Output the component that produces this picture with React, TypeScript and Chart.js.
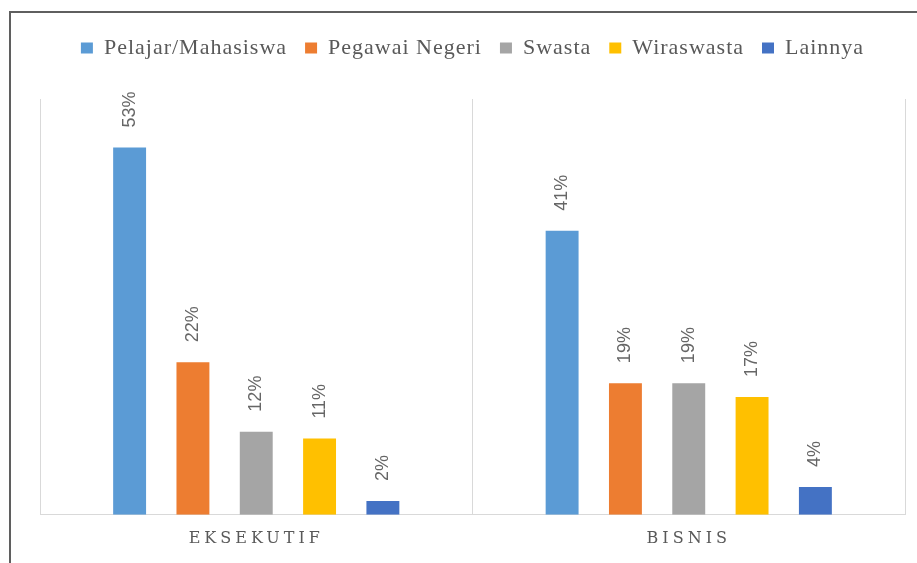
import React, { useEffect, useRef } from 'react';
import { Chart, registerables, CategoryScale } from 'chart.js';

Chart.register(...registerables);

class SpacedCategoryScale extends CategoryScale {
  static id = 'spacedCategory';
  static defaults = (CategoryScale as any).defaults;
  drawLabels(chartArea: any) {
    const ctx: any = (this as any).ctx;
    ctx.save();
    ctx.letterSpacing = '4px';
    super.drawLabels(chartArea);
    ctx.restore();
  }
}
Chart.register(SpacedCategoryScale as any);

const categories = ['EKSEKUTIF', 'BISNIS'];
const seriesNames = ['Pelajar/Mahasiswa', 'Pegawai Negeri', 'Swasta', 'Wiraswasta', 'Lainnya'];
const pelajarMahasiswa = [53, 41];
const pegawaiNegeri = [22, 19];
const swasta = [12, 19];
const wiraswasta = [11, 17];
const lainnya = [2, 4];
const yMax = 60;

const seriesValues = [pelajarMahasiswa, pegawaiNegeri, swasta, wiraswasta, lainnya];
const seriesColors = ['#5B9BD5', '#ED7D31', '#A5A5A5', '#FFC000', '#4472C4'];

const spacingPlugin = {
  id: 'letterSpacingCtl',
  beforeLayout(chart: any) {
    chart.ctx.letterSpacing = '1px';
  },
  beforeDraw(chart: any) {
    chart.ctx.letterSpacing = '1px';
  },
  beforeDatasetsDraw(chart: any) {
    chart.ctx.letterSpacing = '0px';
  },
};

const valueLabelPlugin = {
  id: 'valueLabels',
  afterDatasetsDraw(chart: any) {
    const ctx = chart.ctx;
    ctx.save();
    ctx.letterSpacing = '0px';
    ctx.font = '18px "Liberation Sans"';
    ctx.fillStyle = '#666666';
    ctx.textAlign = 'left';
    ctx.textBaseline = 'middle';
    chart.data.datasets.forEach((ds: any, di: number) => {
      const meta = chart.getDatasetMeta(di);
      meta.data.forEach((bar: any, i: number) => {
        const v = ds.data[i];
        ctx.save();
        ctx.translate(bar.x, bar.y - 20);
        ctx.rotate(-Math.PI / 2);
        ctx.fillText(`${v}%`, 0, 0);
        ctx.restore();
      });
    });
    ctx.restore();
  },
};

export default function App() {
  const canvasRef = useRef<HTMLCanvasElement | null>(null);

  useEffect(() => {
    const canvas = canvasRef.current;
    if (!canvas) return;
    const chart = new Chart(canvas, {
      type: 'bar',
      data: {
        labels: categories,
        datasets: seriesNames.map((name, i) => ({
          label: name,
          data: seriesValues[i],
          backgroundColor: seriesColors[i],
          borderWidth: 0,
          categoryPercentage: 0.732,
          barPercentage: 0.52,
        })),
      },
      options: {
        responsive: false,
        animation: false,
        events: [],
        devicePixelRatio: 1,
        layout: { padding: { left: 40, right: 12, top: 19, bottom: 1 } },
        scales: {
          x: {
            type: 'spacedCategory' as any,
            offset: true,
            grid: { display: true, offset: true, color: '#d9d9d9', lineWidth: 1, drawTicks: false },
            border: { display: true, color: '#d9d9d9', width: 1 },
            ticks: {
              color: '#595959',
              font: { family: 'DejaVu Serif', size: 16 },
              padding: 14,
            },
          },
          y: {
            display: false,
            min: 0,
            max: yMax,
          },
        },
        plugins: {
          legend: {
            display: true,
            position: 'top',
            labels: {
              boxWidth: 12,
              boxHeight: 11,
              padding: 18,
              color: '#595959',
              font: { family: '"Liberation Serif"', size: 22 },
            },
          },
          title: {
            display: true,
            text: '',
            weight: 500,
            font: { size: 10, lineHeight: 1 },
            padding: { top: 10, bottom: 10 },
          } as any,
          tooltip: { enabled: false },
        },
      },
      plugins: [spacingPlugin, valueLabelPlugin],
    });
    return () => chart.destroy();
  }, []);

  return (
    <div
      style={{
        position: 'fixed',
        left: 0,
        top: 0,
        width: 917,
        height: 563,
        overflow: 'hidden',
        background: '#ffffff',
      }}
    >
      <div
        style={{
          position: 'absolute',
          left: 9,
          top: 11,
          width: 2000,
          height: 2000,
          borderLeft: '2px solid #5f5f5f',
          borderTop: '2px solid #5f5f5f',
        }}
      />
      <canvas
        ref={canvasRef}
        width={917}
        height={563}
        style={{ position: 'absolute', left: 0, top: 0, width: 917, height: 563 }}
      />
    </div>
  );
}
